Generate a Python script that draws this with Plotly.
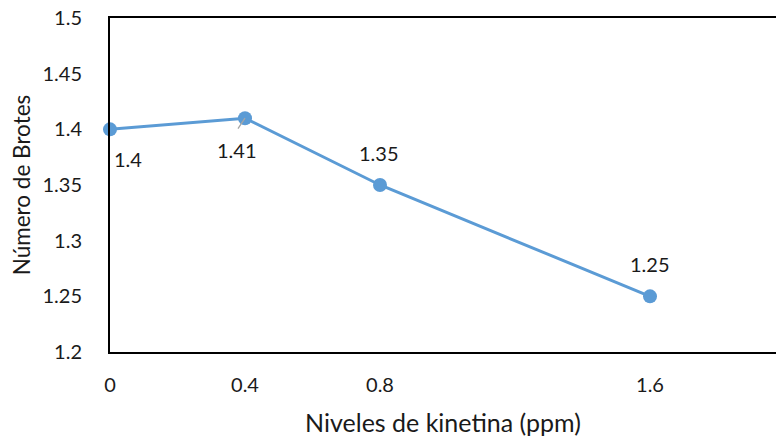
import plotly.graph_objects as go

# Kinetin levels (ppm) and mean number of shoots
niveles = [0, 0.4, 0.8, 1.6]
brotes = [1.40, 1.41, 1.35, 1.25]
etiquetas = ["1.4", "1.41", "1.35", "1.25"]
y_ticks = [1.2, 1.25, 1.3, 1.35, 1.4, 1.45, 1.5]
x_ticks = [0, 0.4, 0.8, 1.6]

color = "#5B9BD5"
fuente = "Lato, 'Open Sans', sans-serif"
texto = "#1a1a1a"

fig = go.Figure()
fig.add_trace(go.Scatter(
    x=niveles, y=brotes, mode="lines+markers",
    line=dict(color=color, width=3),
    marker=dict(color=color, size=14),
    cliponaxis=False, hoverinfo="skip", showlegend=False,
))

# label offsets (pixels, right / down) relative to each point
offsets = [(18, 30), (-8, 32), (-1, -32), (0, -32)]
for x, y, t, (dx, dy) in zip(niveles, brotes, etiquetas, offsets):
    fig.add_annotation(
        x=x, y=y, text=t, showarrow=False,
        xshift=dx, yshift=-dy,
        font=dict(size=20, color=texto, family=fuente),
    )

# short grey leader line for the 0.4 ppm label
fig.add_annotation(
    x=niveles[1], y=brotes[1], text="", showarrow=True,
    ax=-8, ay=12, arrowhead=0, arrowwidth=1.3, arrowcolor="#A6A6A6", standoff=0,
)

fig.update_layout(
    width=776, height=437,
    margin=dict(l=110, r=0, t=18, b=85),
    paper_bgcolor="white", plot_bgcolor="white",
    font=dict(family=fuente, size=20, color=texto),
    xaxis=dict(
        range=[0, 666 / 337.5], tickvals=x_ticks, ticktext=[str(v) for v in x_ticks],
        showgrid=False, zeroline=False, showline=True, mirror=True,
        linecolor="black", linewidth=2, ticks="", ticklabelstandoff=14,
        tickfont=dict(size=20),
        title=dict(text="Niveles de kinetina (ppm)", standoff=19, font=dict(size=25)),
    ),
    yaxis=dict(
        range=[1.2, 1.5], tickvals=y_ticks, ticktext=[f"{v:g}" for v in y_ticks],
        showgrid=False, zeroline=False, showline=True, mirror=False,
        linecolor="black", linewidth=2, ticks="", ticklabelstandoff=22,
        tickfont=dict(size=20),
        title=dict(text="Número de Brotes", standoff=6, font=dict(size=22.5)),
    ),
)

fig.write_html("out.html")
